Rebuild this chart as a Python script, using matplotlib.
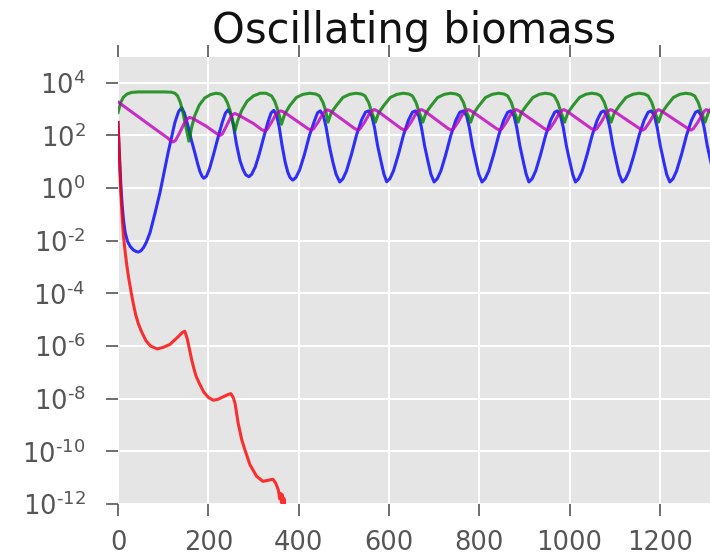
"""
Oscillating biomass: four populations on a log scale, read off the reference picture.
Values are stored as log10(biomass) and converted when plotting.
"""
import matplotlib
matplotlib.use("Agg")
import matplotlib.pyplot as plt
import numpy as np
from matplotlib.ticker import FixedFormatter, FixedLocator, NullLocator

# --- DATA (time, log10 biomass) ---
green_t = [0, 6, 12, 20, 30, 45, 70, 100, 118, 126, 132, 138, 144, 150, 157,
           163, 170, 180, 192, 205, 217, 228, 236, 242, 248, 254, 259,
           265, 274, 286, 300, 315, 328, 340, 347, 353, 358, 362,
           369, 380, 395, 410, 425, 438, 446, 454, 460, 465,
           472, 483, 498, 513, 527, 539, 547, 555, 561, 570,
           577, 588, 603, 618, 632, 644, 652, 660, 666, 675,
           682, 693, 708, 723, 737, 749, 757, 765, 771, 781,
           788, 799, 814, 829, 843, 855, 863, 871, 877, 886,
           893, 904, 919, 933, 946, 958, 966, 974, 980, 989,
           996, 1007, 1022, 1036, 1049, 1061, 1069, 1077, 1083, 1092,
           1099, 1110, 1125, 1140, 1154, 1166, 1174, 1182, 1188, 1197,
           1204, 1215, 1230, 1244, 1257, 1269, 1277, 1285, 1291, 1300,
           1307, 1318]
green_log = [2.87, 3.25, 3.45, 3.57, 3.63, 3.65, 3.65, 3.65, 3.64, 3.6, 3.5, 3.25, 2.85, 2.35, 1.78,
             2.3, 2.75, 3.15, 3.42, 3.55, 3.6, 3.57, 3.45, 3.25, 2.95, 2.55, 2.17,
             2.55, 2.95, 3.3, 3.5, 3.6, 3.6, 3.5, 3.3, 3.0, 2.7, 2.42,
             2.8, 3.12, 3.44, 3.56, 3.6, 3.57, 3.5, 3.25, 2.93, 2.5,
             2.85, 3.12, 3.44, 3.56, 3.6, 3.57, 3.5, 3.25, 2.93, 2.5,
             2.85, 3.12, 3.44, 3.56, 3.6, 3.57, 3.5, 3.25, 2.93, 2.5,
             2.85, 3.12, 3.44, 3.56, 3.6, 3.57, 3.5, 3.25, 2.93, 2.5,
             2.85, 3.12, 3.44, 3.56, 3.6, 3.57, 3.5, 3.25, 2.93, 2.5,
             2.85, 3.12, 3.44, 3.56, 3.6, 3.57, 3.5, 3.25, 2.93, 2.5,
             2.85, 3.12, 3.44, 3.56, 3.6, 3.57, 3.5, 3.25, 2.93, 2.5,
             2.85, 3.12, 3.44, 3.56, 3.6, 3.57, 3.5, 3.25, 2.93, 2.5,
             2.85, 3.12, 3.44, 3.56, 3.6, 3.57, 3.5, 3.25, 2.93, 2.5,
             2.85, 3.12]

blue_t = [0, 3, 6, 9, 12, 16, 21, 27, 34, 40, 45, 51, 57, 63, 71, 82, 93, 102, 111, 119, 126, 134, 141,
          147, 155, 162, 170, 176, 181, 186, 190,
          196, 203, 212, 222, 231, 238, 244, 250, 256, 262, 270, 277, 283, 290,
          296, 304, 313, 323, 332, 339, 345, 351, 357, 363, 370, 376, 381, 387,
          394, 402, 413, 424, 435, 442, 448, 455, 461, 468, 476, 483, 491,
          498, 506, 517, 528, 539, 548, 555, 562, 568, 575, 583, 589, 595,
          602, 610, 621, 632, 643, 652, 659, 666, 672, 679, 687, 693, 700,
          707, 715, 726, 737, 748, 757, 765, 772, 778, 785, 793, 799, 806,
          813, 821, 832, 843, 854, 863, 870, 877, 883, 890, 898, 904, 910,
          917, 925, 936, 947, 958, 967, 973, 980, 986, 993, 1001, 1007, 1013,
          1020, 1028, 1039, 1050, 1061, 1070, 1076, 1083, 1089, 1096, 1104, 1110, 1117,
          1124, 1132, 1143, 1154, 1165, 1174, 1181, 1188, 1194, 1201, 1209, 1215, 1222,
          1229, 1237, 1248, 1259, 1270, 1279, 1285, 1292, 1298, 1305, 1313, 1320]
blue_log = [2.49, 1.3, 0.2, -0.6, -1.2, -1.7, -2.02, -2.22, -2.35, -2.41, -2.43, -2.38, -2.25, -2.05,
            -1.69, -0.95, -0.17, 0.6, 1.35, 1.95, 2.49, 2.9, 3.05,
            2.85, 2.36, 1.85, 1.35, 0.95, 0.65, 0.45, 0.37,
            0.45, 0.75, 1.3, 1.95, 2.5, 2.85, 2.97, 2.8, 2.35, 1.7, 1.05, 0.7, 0.5, 0.43,
            0.52, 0.8, 1.3, 1.95, 2.5, 2.85, 2.95, 2.78, 2.32, 1.65, 1.0, 0.6, 0.4, 0.30,
            0.4, 0.68, 1.28, 2.0, 2.55, 2.86, 2.93, 2.74, 2.3, 1.6, 0.97, 0.52, 0.23,
            0.35, 0.65, 1.28, 2.0, 2.57, 2.88, 2.93, 2.74, 2.3, 1.6, 0.97, 0.52, 0.24,
            0.35, 0.65, 1.28, 2.0, 2.57, 2.88, 2.93, 2.74, 2.3, 1.6, 0.97, 0.52, 0.23,
            0.35, 0.65, 1.28, 2.0, 2.57, 2.88, 2.93, 2.74, 2.3, 1.6, 0.97, 0.52, 0.23,
            0.35, 0.65, 1.28, 2.0, 2.57, 2.88, 2.93, 2.74, 2.3, 1.6, 0.97, 0.52, 0.23,
            0.35, 0.65, 1.28, 2.0, 2.57, 2.88, 2.93, 2.74, 2.3, 1.6, 0.97, 0.52, 0.23,
            0.35, 0.65, 1.28, 2.0, 2.57, 2.88, 2.93, 2.74, 2.3, 1.6, 0.97, 0.52, 0.23,
            0.35, 0.65, 1.28, 2.0, 2.57, 2.88, 2.93, 2.74, 2.3, 1.6, 0.97, 0.52, 0.23,
            0.35, 0.65, 1.28, 2.0, 2.57, 2.88, 2.93, 2.74, 2.3, 1.6, 0.97, 0.6]

magenta_t = [0, 40, 80, 110, 118, 122, 127, 135, 145, 152, 158, 165,
             195, 220, 226, 231, 240, 250, 255, 259, 266,
             300, 318, 325, 330, 340, 350, 356, 361, 368,
             400, 421, 428, 433, 443, 453, 459, 464,
             471, 524, 531, 536, 546, 556, 562, 568,
             575, 627, 634, 639, 649, 659, 665, 672,
             679, 731, 738, 743, 753, 763, 769, 776,
             783, 838, 845, 850, 860, 870, 876, 882,
             889, 944, 951, 956, 966, 976, 982, 987,
             994, 1048, 1055, 1060, 1070, 1080, 1086, 1091,
             1098, 1155, 1162, 1167, 1177, 1187, 1193, 1197,
             1204, 1262, 1269, 1274, 1284, 1294, 1299, 1303,
             1310, 1320]
magenta_log = [3.27, 2.77, 2.27, 1.9, 1.78, 1.75, 1.8, 2.05, 2.4, 2.6, 2.68, 2.65,
               2.35, 2.05, 2.0, 2.05, 2.35, 2.7, 2.8, 2.83, 2.78,
               2.45, 2.22, 2.17, 2.22, 2.5, 2.8, 2.9, 2.93, 2.88,
               2.5, 2.25, 2.2, 2.25, 2.5, 2.8, 2.93, 2.97,
               2.92, 2.26, 2.2, 2.25, 2.5, 2.8, 2.93, 2.98,
               2.92, 2.26, 2.2, 2.25, 2.5, 2.8, 2.93, 2.98,
               2.92, 2.26, 2.2, 2.25, 2.5, 2.8, 2.93, 2.98,
               2.92, 2.26, 2.2, 2.25, 2.5, 2.8, 2.93, 2.98,
               2.92, 2.26, 2.2, 2.25, 2.5, 2.8, 2.93, 2.98,
               2.92, 2.26, 2.2, 2.25, 2.5, 2.8, 2.93, 2.98,
               2.92, 2.26, 2.2, 2.25, 2.5, 2.8, 2.93, 2.98,
               2.92, 2.26, 2.2, 2.25, 2.5, 2.8, 2.93, 2.98,
               2.92, 2.8]

red_t = [0, 3, 6, 9, 12, 16, 20, 24, 29, 34, 39, 45, 52, 62, 72, 87, 100, 115, 133, 143, 148,
         153, 158, 163, 168, 173, 181, 190, 200, 211, 222, 233, 244, 250,
         255, 259, 266, 274, 281, 292, 307, 321, 332, 343, 349, 355,
         358, 360, 362, 364, 366, 368, 370]
red_log = [2.49, 1.15, -0.1, -1.05, -1.8, -2.45, -3.0, -3.45, -3.95, -4.4, -4.8, -5.15, -5.45,
           -5.8, -6.0, -6.11, -6.05, -5.94, -5.65, -5.48, -5.44,
           -5.7, -6.1, -6.51, -6.85, -7.15, -7.45, -7.75, -7.95, -8.06, -8.02, -7.93, -7.84, -7.81,
           -7.95, -8.16, -8.92, -9.56, -9.94, -10.5, -10.95, -11.14, -11.1, -11.06, -11.2, -11.46,
           -11.8, -11.6, -11.95, -11.65, -12.05, -11.8, -12.4]

y_tick_exponents = ['-12', '-10', '-8', '-6', '-4', '-2', '0', '2', '4']
x_ticks = [0, 200, 400, 600, 800, 1000, 1200]

TICK_GREY = '#555555'


def main() -> None:
    fig = plt.figure(figsize=(7.1, 5.59), dpi=100)
    ax = fig.add_axes([0.1662, 0.0984, 0.8338, 0.7991])
    ax.set_facecolor('#E5E5E5')
    for spine in ax.spines.values():
        spine.set_visible(False)

    # red sits on top of everything
    series = [
        (blue_t, blue_log, 'b'),
        (green_t, green_log, 'g'),
        (magenta_t, magenta_log, 'm'),
        (red_t, red_log, 'r'),
    ]
    for t, logv, col in series:
        ax.plot(t, 10.0 ** np.array(logv), color=col, lw=2.2, alpha=0.8)

    ax.set_yscale('log')
    ax.set_xlim(0, 1311)
    ax.set_ylim(1e-12, 10 ** 4.965)
    # \text{} keeps the short hyphen of the old renderer instead of a math minus
    ax.yaxis.set_major_locator(FixedLocator([10.0 ** float(e) for e in y_tick_exponents]))
    ax.yaxis.set_major_formatter(FixedFormatter(
        [r'$\mathdefault{10^{\text{%s}}}$' % e for e in y_tick_exponents]))
    ax.yaxis.set_minor_locator(NullLocator())
    ax.set_xticks(x_ticks)

    ax.grid(True, color='white', lw=1.4)
    ax.set_axisbelow(True)
    ax.tick_params(axis='both', which='major', direction='out', length=8.5, width=1.2,
                   color=TICK_GREY, labelcolor=TICK_GREY, labelsize=18.5)
    ax.tick_params(axis='y', pad=15)
    ax.tick_params(axis='x', pad=10, top=True, labeltop=False)

    ax.set_title('Oscillating biomass', fontsize=30, color='#111111', pad=10)

    fig.savefig('out.png', dpi=100)


if __name__ == "__main__":
    main()
